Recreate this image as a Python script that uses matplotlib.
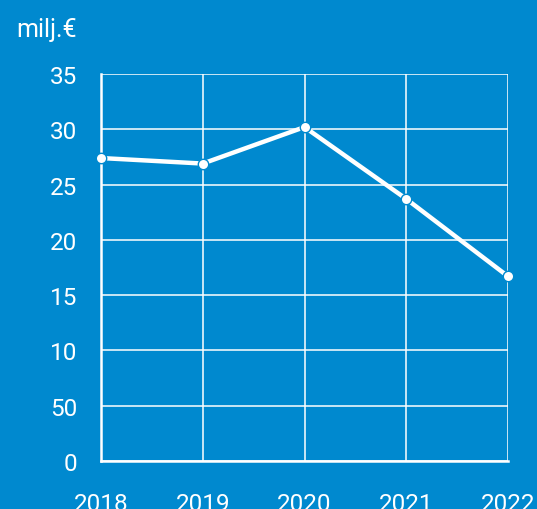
import matplotlib.pyplot as plt

years = [2018, 2019, 2020, 2021, 2022]
values = [27.4, 26.9, 30.2, 23.7, 16.7]
ytick_vals = [0, 5, 10, 15, 20, 25, 30, 35]
ytick_labels = ['0', '50', '10', '15', '20', '25', '30', '35']

bg = '#0089cf'
plt.rcParams['font.family'] = ['Roboto', 'DejaVu Sans']

fig = plt.figure(figsize=(5.37, 5.10), dpi=100, facecolor=bg)
ax = fig.add_axes([101/537, 1 - 462/510, 407/537, 387/510])
ax.set_facecolor(bg)

ax.plot(years, values, color='white', linewidth=3.2, marker='o', markersize=7.5,
        markerfacecolor='white', markeredgecolor=bg, markeredgewidth=1, zorder=5,
        clip_on=False)

ax.set_xlim(2018, 2022)
ax.set_ylim(0, 35)
ax.set_xticks(years)
ax.set_xticklabels([str(y) for y in years])
ax.set_yticks(ytick_vals)
ax.set_yticklabels(ytick_labels)

ax.grid(True, color='white', linewidth=1.1)
ax.set_axisbelow(True)
for s in ['top', 'right']:
    ax.spines[s].set_visible(False)
for s in ['left', 'bottom']:
    ax.spines[s].set_color('white')
    ax.spines[s].set_linewidth(1.8)

ax.tick_params(axis='both', length=0, colors='white', labelsize=17.5)
ax.tick_params(axis='y', pad=17)
ax.tick_params(axis='x', pad=22)

fig.text(16/537, 1 - 30/510, 'milj.€', color='white', fontsize=18, va='center', ha='left')

fig.savefig('out.png', dpi=100, facecolor=bg)
